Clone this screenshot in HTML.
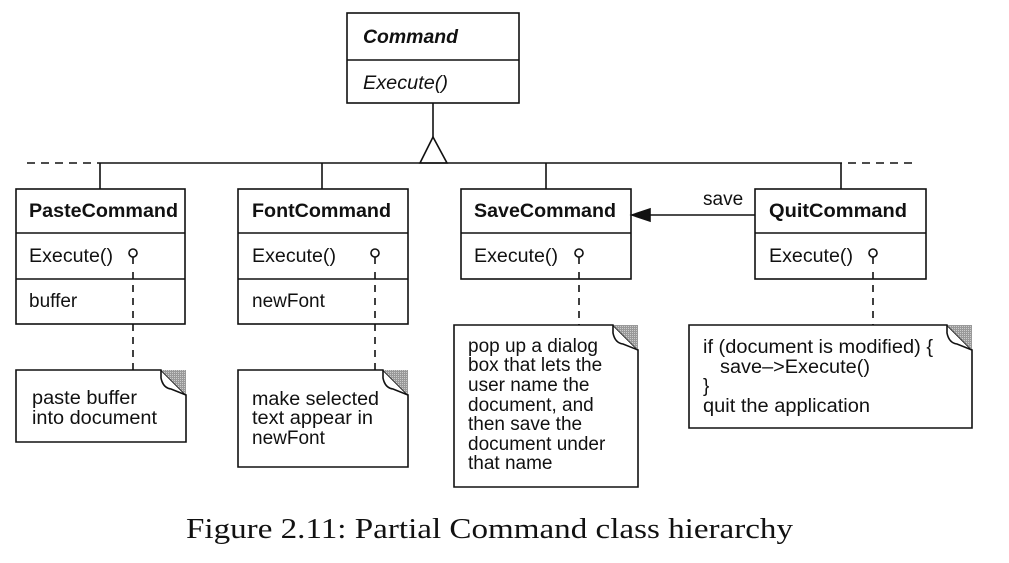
<!DOCTYPE html>
<html><head><meta charset="utf-8"><style>
html,body{margin:0;padding:0;background:#fff;}
svg{display:block;}
.t{font-family:"Liberation Sans",sans-serif;font-size:19px;fill:#111;}
.b{font-family:"Liberation Sans",sans-serif;font-size:19px;font-weight:bold;fill:#111;}
</style></head><body>
<svg width="1009" height="563" viewBox="0 0 1009 563" stroke="#111" fill="none" stroke-width="1.6">
<defs>
<pattern id="hatch" width="2" height="2" patternUnits="userSpaceOnUse"><rect width="2" height="2" fill="#999" stroke="none"/><rect width="1" height="1" fill="#ccc" stroke="none"/></pattern>
</defs>
<g>
<rect x="347" y="13" width="172" height="90"/>
<line x1="347" y1="60" x2="519" y2="60"/>
<text class="b" x="363" y="43" stroke="none" font-style="italic" textLength="95" lengthAdjust="spacingAndGlyphs">Command</text>
<text class="t" x="363" y="89" stroke="none" font-style="italic" textLength="85" lengthAdjust="spacingAndGlyphs">Execute()</text>
</g>
<g>
<line x1="433" y1="103" x2="433" y2="137"/>
<polygon points="433,137 420,163 447,163" fill="#fff"/>
<line x1="100" y1="163" x2="842" y2="163"/>
<line x1="27" y1="163" x2="100" y2="163" stroke-dasharray="8,6"/>
<line x1="848" y1="163" x2="913" y2="163" stroke-dasharray="8,6"/>
<line x1="100" y1="163" x2="100" y2="189"/>
<line x1="322" y1="163" x2="322" y2="189"/>
<line x1="546" y1="163" x2="546" y2="189"/>
<line x1="841" y1="163" x2="841" y2="189"/>
</g>
<g>
<rect x="16" y="189" width="169" height="135"/>
<line x1="16" y1="233" x2="185" y2="233"/><line x1="16" y1="279" x2="185" y2="279"/>
<text class="b" x="29" y="217" stroke="none" textLength="149" lengthAdjust="spacingAndGlyphs">PasteCommand</text>
<text class="t" x="29" y="262" stroke="none" textLength="84" lengthAdjust="spacingAndGlyphs">Execute()</text>
<text class="t" x="29" y="307" stroke="none">buffer</text>
<circle cx="133" cy="253" r="4"/><line x1="133" y1="257" x2="133" y2="264"/>
<line x1="133" y1="272" x2="133" y2="370" stroke-dasharray="7,6"/>
</g>
<g>
<path d="M16,370 H161 L186,395 V442 H16 Z"/>
<path d="M161,370 H186 V395 Z" fill="url(#hatch)" stroke="none"/>
<path d="M161,370 V378 Q163,388 171,389 L186,395"/>
<text class="t" x="32" y="404" stroke="none" textLength="105" lengthAdjust="spacingAndGlyphs">paste buffer</text>
<text class="t" x="32" y="424" stroke="none" textLength="125" lengthAdjust="spacingAndGlyphs">into document</text>
</g>
<g>
<rect x="238" y="189" width="170" height="135"/>
<line x1="238" y1="233" x2="408" y2="233"/><line x1="238" y1="279" x2="408" y2="279"/>
<text class="b" x="252" y="217" stroke="none" textLength="139" lengthAdjust="spacingAndGlyphs">FontCommand</text>
<text class="t" x="252" y="262" stroke="none" textLength="84" lengthAdjust="spacingAndGlyphs">Execute()</text>
<text class="t" x="252" y="307" stroke="none">newFont</text>
<circle cx="375" cy="253" r="4"/><line x1="375" y1="257" x2="375" y2="264"/>
<line x1="375" y1="272" x2="375" y2="370" stroke-dasharray="7,6"/>
</g>
<g>
<path d="M238,370 H383 L408,395 V467 H238 Z"/>
<path d="M383,370 H408 V395 Z" fill="url(#hatch)" stroke="none"/>
<path d="M383,370 V378 Q385,388 393,389 L408,395"/>
<text class="t" x="252" y="405" stroke="none" textLength="127" lengthAdjust="spacingAndGlyphs">make selected</text>
<text class="t" x="252" y="424" stroke="none" textLength="121" lengthAdjust="spacingAndGlyphs">text appear in</text>
<text class="t" x="252" y="444" stroke="none">newFont</text>
</g>
<g>
<rect x="461" y="189" width="170" height="90"/>
<line x1="461" y1="233" x2="631" y2="233"/>
<text class="b" x="474" y="217" stroke="none" textLength="142" lengthAdjust="spacingAndGlyphs">SaveCommand</text>
<text class="t" x="474" y="262" stroke="none" textLength="84" lengthAdjust="spacingAndGlyphs">Execute()</text>
<circle cx="579" cy="253" r="4"/><line x1="579" y1="257" x2="579" y2="264"/>
<line x1="579" y1="272" x2="579" y2="325" stroke-dasharray="7,6"/>
</g>
<g>
<path d="M454,325 H613 L638,350 V487 H454 Z"/>
<path d="M613,325 H638 V350 Z" fill="url(#hatch)" stroke="none"/>
<path d="M613,325 V333 Q615,343 623,344 L638,350"/>
<text class="t" x="468" y="352" stroke="none">pop up a dialog</text>
<text class="t" x="468" y="371" stroke="none">box that lets the</text>
<text class="t" x="468" y="391" stroke="none">user name the</text>
<text class="t" x="468" y="411" stroke="none">document, and</text>
<text class="t" x="468" y="430" stroke="none">then save the</text>
<text class="t" x="468" y="450" stroke="none">document under</text>
<text class="t" x="468" y="469" stroke="none">that name</text>
</g>
<g>
<line x1="645" y1="215" x2="755" y2="215"/>
<polygon points="632,215 650,209 650,221" fill="#111"/>
<text class="t" x="703" y="205" stroke="none">save</text>
</g>
<g>
<rect x="755" y="189" width="171" height="90"/>
<line x1="755" y1="233" x2="926" y2="233"/>
<text class="b" x="769" y="217" stroke="none" textLength="138" lengthAdjust="spacingAndGlyphs">QuitCommand</text>
<text class="t" x="769" y="262" stroke="none" textLength="84" lengthAdjust="spacingAndGlyphs">Execute()</text>
<circle cx="873" cy="253" r="4"/><line x1="873" y1="257" x2="873" y2="264"/>
<line x1="873" y1="272" x2="873" y2="325" stroke-dasharray="7,6"/>
</g>
<g>
<path d="M689,325 H947 L972,350 V428 H689 Z"/>
<path d="M947,325 H972 V350 Z" fill="url(#hatch)" stroke="none"/>
<path d="M947,325 V333 Q949,343 957,344 L972,350"/>
<text class="t" x="703" y="353" stroke="none" textLength="230" lengthAdjust="spacingAndGlyphs">if (document is modified) {</text>
<text class="t" x="720" y="373" stroke="none" textLength="150" lengthAdjust="spacingAndGlyphs">save–&gt;Execute()</text>
<text class="t" x="703" y="392" stroke="none">}</text>
<text class="t" x="703" y="412" stroke="none" textLength="167" lengthAdjust="spacingAndGlyphs">quit the application</text>
</g>
<text x="186" y="538" stroke="none" fill="#111" font-family="'Liberation Serif',serif" font-size="29" textLength="607" lengthAdjust="spacingAndGlyphs">Figure 2.11: Partial Command class hierarchy</text>
</svg>
</body></html>
